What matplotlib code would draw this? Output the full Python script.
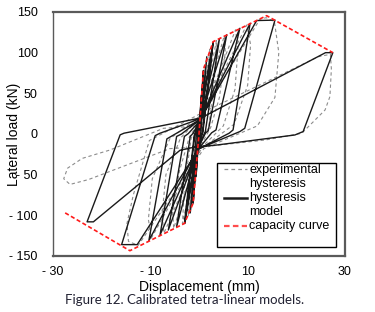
import matplotlib
matplotlib.use("Agg")
import matplotlib.pyplot as plt
from matplotlib.lines import Line2D
from matplotlib.patches import Rectangle

# ---------------- data ----------------
# capacity curve (tetra-linear envelope)
env_x = [-27.5, -14.2, -3.0, -1.2, 0.0, 0.9, 2.9, 13.9, 27.5]
env_y = [-97.0, -143.5, -110.0, -85.0, 0.0, 79.0, 113.5, 145.5, 100.0]

# hysteresis model (black polyline, full loading history)
model_x = [0.0, 0.5, 0.0, -0.2, -0.6, -0.1, 0.2,
           0.9, 0.1, -0.3, -1.2, -0.3, 0.2,
           1.6, 0.4, -0.3, -1.8, -0.6, 0.1,
           2.9, 0.7, -0.4, -2.9, -0.9, 0.1,
           2.9, 0.8, -0.4, -3.0, -1.0, 0.2,
           4.2, 1.3, -0.3, -4.6, -1.8, -1.2, 0.2,
           5.7, 1.9, 1.3, -0.2, -6.3, -3.0, -2.2, 0.3,
           8.4, 3.5, 2.6, -0.2, -8.0, -4.6, -3.6, 0.3,
           10.5, 7.0, 6.2, 2.3, -0.3, -10.3, -6.6, -5.6, 0.3,
           11.85, 15.6, 9.4, 8.4, 0.0, -12.7, -15.9, -9.0, -8.0, -1.5, 0.2,
           26.0, 27.5, 21.4, 19.7, 3.6, -0.8, -3.9, -21.7, -23.0, -16.2, -15.4, -1.9, 0.5]
model_y = [0.0, 48.0, 8.0, -12.0, -52.0, -8.0, 12.0,
           78.0, 4.0, -14.0, -85.0, -6.0, 14.0,
           95.0, 3.0, -16.0, -97.0, -4.0, 15.0,
           113.0, 2.0, -17.0, -110.0, -3.0, 16.0,
           112.0, 2.0, -17.0, -110.0, -2.0, 16.0,
           117.0, 3.0, -18.0, -114.0, -3.0, 1.0, 17.0,
           122.0, 4.0, 1.0, -18.0, -118.0, -3.0, 0.5, 17.0,
           130.0, 5.0, 1.5, -19.0, -124.0, -3.0, 0.0, 18.0,
           136.0, 5.0, 1.0, -11.0, -19.0, -131.0, -6.0, -2.5, 18.0,
           139.5, 140.0, 7.0, 3.0, -18.0, -136.0, -136.0, -2.0, 1.0, 15.0, 19.0,
           100.0, 100.0, 3.0, -1.2, -13.6, -16.0, -20.0, -108.0, -108.0, -1.0, 1.0, 17.0, 20.0]

# experimental hysteresis (grey dashed)
exp_x = [0.0, 0.6, 0.3, 0.0, -0.4, -0.7, -0.3, 0.1,
         1.1, 0.6, 0.2, -0.6, -1.4, -0.8, -0.2, 0.4,
         2.2, 1.2, 0.6, -0.3, -2.2, -1.3, -0.4, 0.5,
         3.6, 3.2, 2.0, 0.0, -3.4, -3.0, -1.6, 0.4,
         5.2, 5.4, 4.2, 2.4, 0.2, -5.2, -5.4, -4.0, -2.0, 0.5,
         7.5, 8.0, 7.4, 5.0, 0.3, -7.2, -7.6, -6.8, -3.8, 0.5,
         9.8, 10.6, 10.0, 7.2, 0.5, -9.8, -10.4, -9.6, -6.0, 0.6,
         12.5, 13.8, 15.5, 16.4, 15.6, 12.0, 1.0, -12.5, -14.5, -14.8, -13.5, -10.2, 0.6,
         24.5, 27.0, 27.2, 26.9, 25.9, 21.1, 13.6, 2.0, -6.0, -22.7, -26.5, -27.8, -27.0, -24.0, -18.3, -7.3, 0.0]
exp_y = [0.0, 55.0, 25.0, 5.0, -20.0, -58.0, -25.0, 5.0,
         84.0, 30.0, 2.0, -25.0, -88.0, -30.0, 0.0, 20.0,
         104.0, 35.0, 5.0, -15.0, -100.0, -40.0, 0.0, 22.0,
         115.0, 70.0, 8.0, -14.0, -110.0, -65.0, -5.0, 20.0,
         121.0, 100.0, 45.0, 8.0, -16.0, -116.0, -95.0, -45.0, -4.0, 20.0,
         128.0, 105.0, 55.0, 10.0, -18.0, -122.0, -100.0, -50.0, -5.0, 22.0,
         134.0, 110.0, 60.0, 12.0, -18.0, -128.0, -105.0, -55.0, -6.0, 24.0,
         141.0, 143.0, 138.0, 100.0, 45.0, 10.0, -18.0, -137.0, -132.0, -110.0, -75.0, -8.0, 26.0,
         95.0, 98.0, 80.0, 46.0, 29.5, 0.8, -7.4, -15.0, -18.0, -56.0, -62.0, -55.0, -42.0, -30.0, -19.7, 7.0, 10.0]

xtick_vals = [-30, -10, 10, 30]
xtick_labels = ["- 30", "- 10", "10", "30"]
ytick_vals = [-150, -100, -50, 0, 50, 100, 150]
ytick_labels = ["- 150", "- 100", "- 50", "0", "50", "100", "150"]

legend_labels = ["experimental\nhysteresis", "hysteresis\nmodel", "capacity curve"]

# ---------------- figure ----------------
W, H = 375, 312
fig = plt.figure(figsize=(W / 100, H / 100), dpi=100)
ax = fig.add_axes([53 / W, 1 - 256 / H, 292 / W, 244 / H])

font = "Liberation Sans"

ax.plot(exp_x, exp_y, color="#8c8c8c", lw=0.8, ls=(0, (3, 2.5)), zorder=2)
ax.plot(model_x, model_y, color="#1a1a1a", lw=1.0, zorder=3)
ax.plot(env_x, env_y, color="#ff1a1a", lw=1.2, ls=(0, (2.5, 1.5)), zorder=4)

ax.set_xlim(-30, 30)
ax.set_ylim(-150, 150)
ax.set_xticks(xtick_vals)
ax.set_xticklabels(xtick_labels, fontfamily=font, fontsize=9)
ax.set_yticks(ytick_vals)
ax.set_yticklabels(ytick_labels, fontfamily=font, fontsize=9)
ax.tick_params(length=0, pad=7)
ax.tick_params(axis="y", pad=11)

for s in ax.spines.values():
    s.set_color("#5a5a5a")
    s.set_linewidth(1.6)
ax.spines["left"].set_linewidth(1.0)

ax.set_xlabel("Displacement (mm)", fontfamily=font, fontsize=10, labelpad=2)
ax.set_ylabel("Lateral load (kN)", fontfamily=font, fontsize=10, va="center")
ax.yaxis.set_label_coords((14 - 53) / 292, 0.5)

# custom legend box (axes fraction coordinates)
tr = ax.transAxes
def ax_frac(px, py):
    return ((px - 53) / 292, (256 - py) / 244)

x0, y0 = ax_frac(217, 247)
x1, y1 = ax_frac(336, 163)
ax.add_patch(Rectangle((x0, y0), x1 - x0, y1 - y0, transform=tr, fill=True,
                       facecolor="white", edgecolor="black", lw=1.0, zorder=10))
handles = [dict(color="#8c8c8c", lw=0.9, ls=(0, (3, 2.5))),
           dict(color="#1a1a1a", lw=1.8, ls="-"),
           dict(color="#ff4d4d", lw=1.6, ls=(0, (2.5, 1.5)))]
rows = [169, 197.5, 226]
for lab, hs, r in zip(legend_labels, handles, rows):
    hx0, hy = ax_frac(224, r)
    hx1, _ = ax_frac(247, r)
    ax.add_line(Line2D([hx0, hx1], [hy, hy], transform=tr, zorder=11, **hs))
    for k, part in enumerate(lab.split("\n")):
        tx, ty = ax_frac(249, r + 3.5 + 14.2 * k)
        ax.text(tx, ty, part, transform=tr, ha="left", va="baseline",
                fontfamily=font, fontsize=9, zorder=11)

fig.text(185 / W, 1 - 300 / H, "Figure 12. Calibrated tetra-linear models.",
         ha="center", va="center", fontfamily="Lato", fontsize=9.5, color="#222233")

fig.savefig("out.png", dpi=100)
